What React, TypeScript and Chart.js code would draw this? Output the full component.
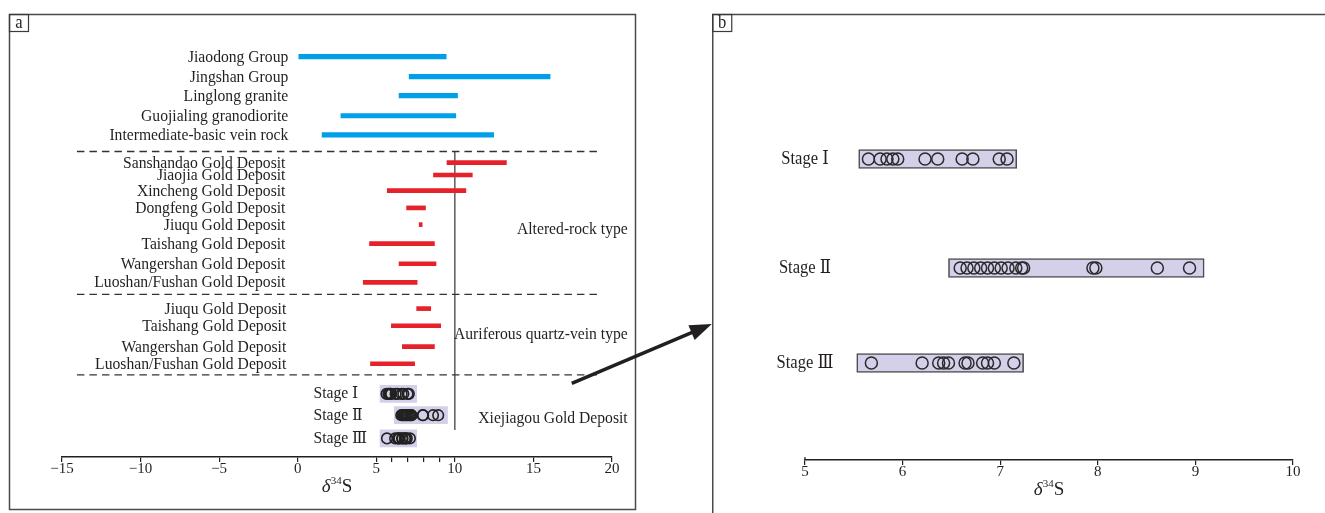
import React, { useEffect, useRef } from "react";
import { Chart, registerables } from "chart.js";
Chart.register(...registerables);

const FONT = "'Liberation Serif', 'Times New Roman', 'DejaVu Serif', 'Noto Sans CJK SC', serif";
const INK = "#231f20";
const BLUE = "#00a0e9";
const RED = "#e6212a";
const LAVENDER = "#d4d0ea";
const SQUEEZE = 0.92;

// ---------- Panel a data ----------
const sourceLabels = [
  "Jiaodong Group",
  "Jingshan Group",
  "Linglong granite",
  "Guojialing granodiorite",
  "Intermediate-basic vein rock",
];
const sourceRanges: [number, number][] = [
  [0.07, 9.45],
  [7.09, 16.06],
  [6.45, 10.17],
  [2.75, 10.06],
  [1.55, 12.47],
];
const alteredLabels = [
  "Sanshandao Gold Deposit",
  "Jiaojia Gold Deposit",
  "Xincheng Gold Deposit",
  "Dongfeng Gold Deposit",
  "Jiuqu Gold Deposit",
  "Taishang Gold Deposit",
  "Wangershan Gold Deposit",
  "Luoshan/Fushan Gold Deposit",
];
const alteredRanges: [number, number][] = [
  [9.5, 13.28],
  [8.64, 11.11],
  [5.7, 10.7],
  [6.93, 8.13],
  [7.73, 7.92],
  [4.57, 8.7],
  [6.45, 8.8],
  [4.17, 7.6],
];
const veinLabels = [
  "Jiuqu Gold Deposit",
  "Taishang Gold Deposit",
  "Wangershan Gold Deposit",
  "Luoshan/Fushan Gold Deposit",
];
const veinRanges: [number, number][] = [
  [7.57, 8.46],
  [5.96, 9.1],
  [6.66, 8.7],
  [4.63, 7.44],
];
const groupNotes = ["Altered-rock type", "Auriferous quartz-vein type", "Xiejiagou Gold Deposit"];

// ---------- Stage data (Xiejiagou) ----------
const stageLabels = ["Stage Ⅰ", "Stage Ⅱ", "Stage Ⅲ"];
const stage1 = [5.65, 5.77, 5.84, 5.9, 5.95, 6.23, 6.36, 6.61, 6.72, 6.99, 7.07];
const stage2 = [6.59, 6.66, 6.73, 6.8, 6.87, 6.94, 7.01, 7.08, 7.16, 7.22, 7.24, 7.95, 7.98, 8.61, 8.94];
const stage3 = [5.68, 6.2, 6.37, 6.42, 6.47, 6.64, 6.67, 6.82, 6.87, 6.94, 7.14];
const stages = [stage1, stage2, stage3];
const stageBoxA: [number, number][] = [
  [5.24, 7.57],
  [6.15, 9.53],
  [5.24, 7.57],
];
const stageBoxB: [number, number][] = [
  [5.55, 7.17],
  [6.47, 9.09],
  [5.53, 7.24],
];

// ---------- Axis ticks ----------
const ticksA = [-15, -10, -5, 0, 5, 6, 7, 8, 9, 10, 15, 20];
const ticksB = [5, 6, 7, 8, 9, 10];

// ---------- Layout (row slots in y-units) ----------
const sourceSlots = [0.93, 1.98, 2.98, 4.04, 5.05];
const alteredSlots = [6.51, 7.16, 7.98, 8.89, 9.77, 10.77, 11.83, 12.81];
const veinSlots = [14.19, 15.09, 16.19, 17.09];
const stageSlotsA = [18.68, 19.8, 21.02];
const separatorSlots = [5.92, 13.44, 17.68];
const separatorSpan = [-14.05, 19.36];
const dividerSpan = [5.92, 20.58];
const noteSlots = [10.05, 15.58, 20.0];
const arrowFrom = [17.44, 18.12];
const arrowTo = [26.35, 15.0];
const stageSlotsB = [1.18, 2.27, 3.22];

function fmt(v: number) {
  return v < 0 ? "\u2212" + Math.abs(v) : String(v);
}

function text(
  ctx: CanvasRenderingContext2D,
  s: string,
  x: number,
  y: number,
  align: CanvasTextAlign,
  size = 17,
  style = ""
) {
  ctx.save();
  ctx.translate(x, y);
  ctx.scale(SQUEEZE, 1);
  ctx.font = `${style} ${size}px ${FONT}`;
  ctx.fillStyle = INK;
  ctx.textAlign = align;
  ctx.textBaseline = "middle";
  ctx.fillText(s, 0, 0);
  ctx.restore();
}

function deltaTitle(ctx: CanvasRenderingContext2D, cx: number, base: number) {
  ctx.save();
  ctx.fillStyle = INK;
  ctx.textBaseline = "alphabetic";
  ctx.textAlign = "left";
  const big = 19;
  const small = 11;
  ctx.font = `italic ${big}px ${FONT}`;
  const wd = ctx.measureText("δ").width;
  ctx.font = `${small}px ${FONT}`;
  const w34 = ctx.measureText("34").width;
  ctx.font = `${big}px ${FONT}`;
  const wS = ctx.measureText("S").width;
  let x = cx - (wd + w34 + wS) / 2;
  ctx.font = `italic ${big}px ${FONT}`;
  ctx.fillText("δ", x, base);
  x += wd;
  ctx.font = `${small}px ${FONT}`;
  ctx.fillText("34", x, base - 8);
  x += w34;
  ctx.font = `${big}px ${FONT}`;
  ctx.fillText("S", x, base);
  ctx.restore();
}

function labelBox(ctx: CanvasRenderingContext2D, x: number, y: number, s: string) {
  ctx.save();
  ctx.strokeStyle = "#3a3a3a";
  ctx.lineWidth = 1.2;
  ctx.strokeRect(x, y, 19, 17);
  ctx.restore();
  text(ctx, s, x + 9.5, y + 8.5, "center", 18);
}

const panelAPlugin = {
  id: "panelA",
  beforeDraw(chart: any) {
    const ctx = chart.ctx as CanvasRenderingContext2D;
    ctx.save();
    ctx.strokeStyle = "#4a4a4a";
    ctx.lineWidth = 1.5;
    ctx.strokeRect(9.5, 14.5, 626, 495);
    ctx.restore();
    labelBox(ctx, 9.5, 14.5, "a");
  },
  afterDraw(chart: any) {
    const ctx = chart.ctx as CanvasRenderingContext2D;
    const xs = chart.scales.x;
    const ys = chart.scales.y;
    sourceLabels.forEach((l, i) =>
      text(ctx, l, xs.getPixelForValue(-0.6), ys.getPixelForValue(sourceSlots[i]) + 1, "right")
    );
    alteredLabels.forEach((l, i) =>
      text(ctx, l, xs.getPixelForValue(-0.78), ys.getPixelForValue(alteredSlots[i]) + 0.5, "right")
    );
    veinLabels.forEach((l, i) =>
      text(ctx, l, xs.getPixelForValue(-0.73), ys.getPixelForValue(veinSlots[i]) + 0.5, "right")
    );
    stageLabels.forEach((l, i) =>
      text(ctx, l, xs.getPixelForValue(1.0), ys.getPixelForValue(stageSlotsA[i]), "left")
    );
    groupNotes.forEach((l, i) =>
      text(ctx, l, xs.getPixelForValue(21), ys.getPixelForValue(noteSlots[i]), "right")
    );
    deltaTitle(ctx, (chart.chartArea.left + chart.chartArea.right) / 2, 492);

    // arrow
    const x0 = xs.getPixelForValue(arrowFrom[0]);
    const y0 = ys.getPixelForValue(arrowFrom[1]);
    const x1 = xs.getPixelForValue(arrowTo[0]);
    const y1 = ys.getPixelForValue(arrowTo[1]);
    const ang = Math.atan2(y1 - y0, x1 - x0);
    const len = 22;
    const hw = 8;
    const bx = x1 - len * Math.cos(ang);
    const by = y1 - len * Math.sin(ang);
    ctx.save();
    ctx.strokeStyle = INK;
    ctx.fillStyle = INK;
    ctx.lineWidth = 3.5;
    ctx.beginPath();
    ctx.moveTo(x0, y0);
    ctx.lineTo(bx + 2 * Math.cos(ang), by + 2 * Math.sin(ang));
    ctx.stroke();
    ctx.beginPath();
    ctx.moveTo(x1, y1);
    ctx.lineTo(bx + hw * Math.sin(ang), by - hw * Math.cos(ang));
    ctx.lineTo(bx - hw * Math.sin(ang), by + hw * Math.cos(ang));
    ctx.closePath();
    ctx.fill();
    ctx.restore();
  },
};

const panelBPlugin = {
  id: "panelB",
  beforeDraw(chart: any) {
    const ctx = chart.ctx as CanvasRenderingContext2D;
    ctx.save();
    ctx.strokeStyle = "#4a4a4a";
    ctx.lineWidth = 1.5;
    ctx.beginPath();
    ctx.moveTo(0.75, 513);
    ctx.lineTo(0.75, 14.5);
    ctx.lineTo(613, 14.5);
    ctx.stroke();
    ctx.restore();
    labelBox(ctx, 0.75, 14.5, "b");
  },
  afterDraw(chart: any) {
    const ctx = chart.ctx as CanvasRenderingContext2D;
    const xs = chart.scales.x;
    const ys = chart.scales.y;
    stageLabels.forEach((l, i) =>
      text(ctx, l, xs.getPixelForValue(5), ys.getPixelForValue(stageSlotsB[i]), "center", 18)
    );
    deltaTitle(ctx, (chart.chartArea.left + chart.chartArea.right) / 2, 495);
    const px = xs.getPixelForValue(5);
    const by = chart.chartArea.bottom;
    ctx.save();
    ctx.strokeStyle = INK;
    ctx.lineWidth = 1.2;
    ctx.beginPath();
    ctx.moveTo(px, by - 3);
    ctx.lineTo(px, by);
    ctx.stroke();
    ctx.restore();
  },
};

function rangeBars(ranges: [number, number][], slots: number[], color: string, thick: number, order = 1) {
  return {
    type: "bar" as const,
    indexAxis: "y" as const,
    grouped: false,
    order,
    data: ranges.map((r, i) => ({ x: r, y: slots[i] })),
    backgroundColor: color,
    borderWidth: 0,
    barThickness: thick,
  };
}

function circles(values: number[], slot: number, r: number, w: number, color: string) {
  return {
    type: "scatter" as const,
    order: 0,
    data: values.map((v) => ({ x: v, y: slot })),
    pointStyle: "circle",
    pointRadius: r,
    pointBorderWidth: w,
    pointBorderColor: color,
    pointBackgroundColor: "rgba(0,0,0,0)",
    showLine: false,
  };
}

function axisX(min: number, max: number, ticks: number[], labelFn: (v: number) => string) {
  return {
    type: "linear" as const,
    min,
    max,
    afterBuildTicks: (s: any) => {
      s.ticks = ticks.map((v) => ({ value: v }));
    },
    afterFit: (s: any) => {
      s.height = 30;
    },
    ticks: {
      autoSkip: false,
      maxRotation: 0,
      padding: -2,
      color: INK,
      font: { family: FONT, size: 15 },
      callback: (v: any) => labelFn(Number(v)),
    },
    grid: {
      display: true,
      drawOnChartArea: false,
      drawTicks: true,
      tickLength: 5,
      color: INK,
      lineWidth: 1.2,
    },
    border: { display: true, color: INK, width: 1.5 },
  };
}

export default function App() {
  const refA = useRef<HTMLCanvasElement>(null);
  const refB = useRef<HTMLCanvasElement>(null);

  useEffect(() => {
    document.body.style.margin = "0";
    const common = {
      animation: false as const,
      responsive: false,
      events: [] as any[],
      plugins: { legend: { display: false }, tooltip: { enabled: false } },
    };

    const datasetsA: any[] = [
      rangeBars(sourceRanges, sourceSlots, BLUE, 4.5),
      rangeBars(alteredRanges, alteredSlots, RED, 4),
      rangeBars(veinRanges, veinSlots, RED, 4),
      rangeBars(stageBoxA, stageSlotsA, LAVENDER, 17, 3),
      ...stages.map((s, i) => circles(s, stageSlotsA[i], 5.3, 1.6, "#222")),
      ...separatorSlots.map((s) => ({
        type: "line",
        order: 2,
        data: [
          { x: separatorSpan[0], y: s },
          { x: separatorSpan[1], y: s },
        ],
        borderColor: "#333",
        borderWidth: 1.4,
        borderDash: [7.5, 5],
        pointRadius: 0,
        fill: false,
      })),
      {
        type: "line",
        order: 2,
        data: [
          { x: 10, y: dividerSpan[0] },
          { x: 10, y: dividerSpan[1] },
        ],
        borderColor: "#333",
        borderWidth: 1.2,
        pointRadius: 0,
        fill: false,
      },
    ];

    const ca = new Chart(refA.current!, {
      type: "scatter",
      data: { datasets: datasetsA },
      options: {
        ...common,
        layout: { padding: { left: 62, right: 108, top: 39, bottom: 26 } },
        scales: {
          x: axisX(-15, 20, ticksA, (v) => (v % 5 === 0 ? fmt(v) : "")),
          y: { type: "linear", display: false, min: 0, max: 22, reverse: true, offset: false, grid: { offset: false } },
        },
      } as any,
      plugins: [panelAPlugin],
    } as any);

    const datasetsB: any[] = [
      {
        ...rangeBars(stageBoxB, stageSlotsB, LAVENDER, 19, 3),
        borderWidth: 1.6,
        borderColor: "#4d4d4d",
        borderSkipped: false,
      },
      ...stages.map((s, i) => circles(s, stageSlotsB[i], 6, 1.5, "#2a2a2a")),
    ];

    const cb = new Chart(refB.current!, {
      type: "scatter",
      data: { datasets: datasetsB },
      options: {
        ...common,
        layout: { padding: { left: 93, right: 32, top: 41, bottom: 23 } },
        scales: {
          x: axisX(5, 10, ticksB, (v) => String(v)),
          y: { type: "linear", display: false, min: 0, max: 4.19, reverse: true, offset: false, grid: { offset: false } },
        },
      } as any,
      plugins: [panelBPlugin],
    } as any);

    return () => {
      ca.destroy();
      cb.destroy();
    };
  }, []);

  return (
    <div style={{ position: "fixed", left: 0, top: 0, width: 1325, height: 513, overflow: "hidden", background: "#fff" }}>
      <canvas ref={refA} width={720} height={513} style={{ position: "absolute", left: 0, top: 0 }} />
      <canvas ref={refB} width={613} height={513} style={{ position: "absolute", left: 712, top: 0 }} />
    </div>
  );
}
